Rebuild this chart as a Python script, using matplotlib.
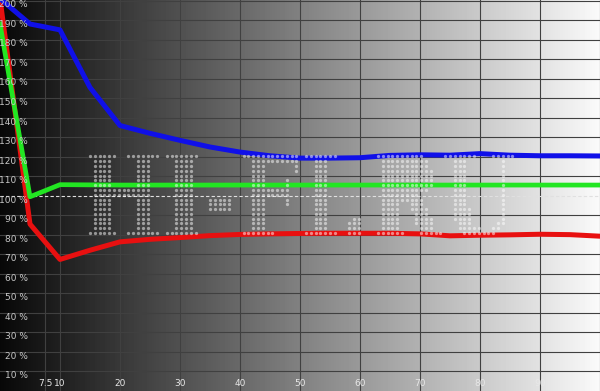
import numpy as np
import matplotlib
matplotlib.use('Agg')
import matplotlib.pyplot as plt
from matplotlib.textpath import TextPath
from matplotlib.font_manager import FontProperties
from matplotlib.path import Path

# Уровень стимула, % (ось X)
stimulus = [0, 5, 10, 15, 20, 25, 30, 35, 40, 45, 50,
            55, 60, 65, 70, 75, 80, 85, 90, 95, 100]

# Баланс RGB, % относительно опорного уровня
red = [201, 85.5, 67.4, 72.1, 76.4, 77.7, 78.6, 79.6, 80.2, 80.5, 80.7,
       80.8, 80.8, 80.8, 80.5, 79.5, 79.8, 80.0, 80.3, 80.1, 79.3]
green = [188, 99.5, 105.7, 105.6, 105.5, 105.5, 105.5, 105.5, 105.5, 105.5, 105.5,
         105.5, 105.5, 105.5, 105.5, 105.5, 105.5, 105.5, 105.5, 105.5, 105.5]
blue = [201, 188, 185, 155.5, 136, 132, 128.4, 125, 122.4, 120.5, 119.3,
        119.3, 119.5, 120.7, 121.0, 120.8, 121.6, 120.8, 120.5, 120.5, 120.4]

x_ticks = [7.5, 10, 20, 30, 40, 50, 60, 70, 80, 90]
x_tick_labels = ['7.5', '10', '20', '30', '40', '50', '60', '70', '80', '90']
y_ticks = list(range(10, 201, 10))

fig = plt.figure(figsize=(6, 3.91), dpi=100)
ax = fig.add_axes([0, 0, 1, 1])
ax.set_xlim(0, 100)
ax.set_ylim(0, 200.3)
ax.axis('off')

# фон - градиент от чёрного к белому
grad = np.linspace(0.03, 0.98, 600).reshape(1, -1)
ax.imshow(grad, cmap='gray', vmin=0, vmax=1, extent=[0, 100, 0, 200.3],
          aspect='auto', zorder=0)

# сетка
for xv in x_ticks + [100]:
    ax.axvline(xv, color='#404040', lw=0.8, zorder=1)
for yv in y_ticks:
    if yv != 100:
        ax.axhline(yv, color='#404040', lw=0.8, zorder=1)
ax.axhline(100, color='#e0e0e0', lw=0.8, ls=(0, (3, 2)), zorder=2)

# кривые
ax.plot(stimulus, red, color='#e81010', lw=3.6, zorder=3)
ax.plot(stimulus, green, color='#22e622', lw=3.4, zorder=3)
ax.plot(stimulus, blue, color='#1010e8', lw=3.6, zorder=3)

# подписи осей
for yv in y_ticks:
    ax.text(4.6, yv - 2.2, f'{yv} %', ha='right', va='center',
            fontsize=6.5, color='#c8c8c8', zorder=4)
for xv, lab in zip(x_ticks, x_tick_labels):
    ax.text(xv, 4.0, lab, ha='center', va='center',
            fontsize=6.5, color='#e8e8e8', zorder=4)

# водяной знак из точек
fp = FontProperties(family='DejaVu Serif', weight='bold')
tp = TextPath((0, 0), 'HI-FI.RU', size=10, prop=fp)
ext = tp.get_extents()
x0, x1, y0, y1 = 14.2, 85.8, 78.5, 121.5
verts = tp.vertices.copy()
verts[:, 0] = x0 + (verts[:, 0] - ext.x0) / ext.width * (x1 - x0)
verts[:, 1] = y0 + (verts[:, 1] - ext.y0) / ext.height * (y1 - y0)
wpath = Path(verts, tp.codes)
gx, gy = np.meshgrid(np.arange(x0, x1, 0.8), np.arange(y0, y1, 2.45))
pts = np.column_stack([gx.ravel(), gy.ravel()])
inside = wpath.contains_points(pts)
ax.scatter(pts[inside, 0], pts[inside, 1], s=5.5, c='white', alpha=0.5,
           linewidths=0, zorder=5)

fig.savefig('out.png', dpi=100)
